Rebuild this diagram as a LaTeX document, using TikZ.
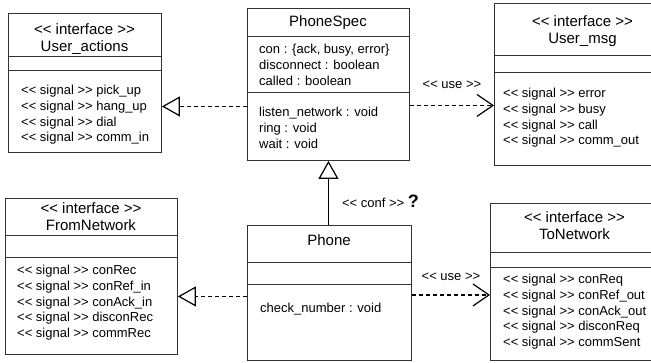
\documentclass[tikz,border=0pt]{standalone}
\usepackage{fontspec}
\setmainfont{Liberation Sans}
\usetikzlibrary{positioning,arrows.meta}

\newcommand{\ltlt}{<\kern0pt<}
\newcommand{\gtgt}{>\kern0pt>}

\tikzset{
  box/.style={draw=black!80, line width=0.9pt, anchor=north west, inner sep=0pt},
  divider/.style={draw=black!80, line width=0.9pt},
  head/.style={font=\fontsize{15}{17.5}\selectfont, align=center, anchor=north, inner sep=0pt},
  body/.style={font=\fontsize{13}{15.7}\selectfont, align=left, anchor=north west, inner sep=0pt},
  lbl/.style={font=\fontsize{13}{15}\selectfont, inner sep=0pt},
  realize/.style={dash pattern=on 4pt off 3pt, line width=1.2pt, -{Triangle[open, length=18pt, width=20pt]}},
  uses/.style={dash pattern=on 4pt off 3pt, line width=1.2pt, -{Straight Barb[length=16pt, width=22pt]}}
}

\begin{document}
\begin{tikzpicture}[x=1pt, y=-1pt]
  \useasboundingbox (0,0) rectangle (651,362);
  \clip (0,0) rectangle (651,362);

  % class boxes
  \node[box, minimum width=153pt, minimum height=139pt] (ua) at (8,13) {};
  \node[box, minimum width=162pt, minimum height=152pt] (spec) at (247,8) {};
  \node[box, minimum width=177pt, minimum height=162pt] (umsg) at (494,3) {};
  \node[box, minimum width=172pt, minimum height=156pt] (fromnet) at (5,198) {};
  \node[box, minimum width=164pt, minimum height=135pt] (phone) at (247,225) {};
  \node[box, minimum width=169pt, minimum height=157pt] (tonet) at (490,203) {};

  % compartments
  \draw[divider] ([yshift=-43pt]ua.north west) -- ([yshift=-43pt]ua.north east);
  \draw[divider] ([yshift=-57pt]ua.north west) -- ([yshift=-57pt]ua.north east);
  \draw[divider] ([yshift=-28pt]spec.north west) -- ([yshift=-28pt]spec.north east);
  \draw[divider] ([yshift=-84pt]spec.north west) -- ([yshift=-84pt]spec.north east);
  \draw[divider] ([yshift=-52pt]umsg.north west) -- ([yshift=-52pt]umsg.north east);
  \draw[divider] ([yshift=-69pt]umsg.north west) -- ([yshift=-69pt]umsg.north east);
  \draw[divider] ([yshift=-37pt]fromnet.north west) -- ([yshift=-37pt]fromnet.north east);
  \draw[divider] ([yshift=-59pt]fromnet.north west) -- ([yshift=-59pt]fromnet.north east);
  \draw[divider] ([yshift=-37pt]phone.north west) -- ([yshift=-37pt]phone.north east);
  \draw[divider] ([yshift=-59pt]phone.north west) -- ([yshift=-59pt]phone.north east);
  \draw[divider] ([yshift=-49pt]tonet.north west) -- ([yshift=-49pt]tonet.north east);
  \draw[divider] ([yshift=-64pt]tonet.north west) -- ([yshift=-64pt]tonet.north east);

  % texts
  \node[head] (uaHead) at (84.5,23.3) {\ltlt{} interface \gtgt\\User\_actions};
  \node[body] (uaSig) at (21,85) {\ltlt{} signal \gtgt{} pick\_up\\\ltlt{} signal \gtgt{} hang\_up\\\ltlt{} signal \gtgt{} dial\\\ltlt{} signal \gtgt{} comm\_in};
  \node[head] (specHead) at (328,15.7) {PhoneSpec};
  \node[body] (specAttr) at (259,44) {con : \{ack, busy, error\}\\disconnect : boolean\\called : boolean};
  \node[body] (specOp) at (259,107) {listen\_network : void\\ring : void\\wait : void};
  \node[head] (umsgHead) at (582.5,15.3) {\ltlt{} interface \gtgt\\User\_msg};
  \node[body] (umsgSig) at (503,88) {\ltlt{} signal \gtgt{} error\\\ltlt{} signal \gtgt{} busy\\\ltlt{} signal \gtgt{} call\\\ltlt{} signal \gtgt{} comm\_out};
  \node[head] (fromnetHead) at (91,202.3) {\ltlt{} interface \gtgt\\FromNetwork};
  \node[body] (fromnetSig) at (17,265) {\ltlt{} signal \gtgt{} conRec\\\ltlt{} signal \gtgt{} conRef\_in\\\ltlt{} signal \gtgt{} conAck\_in\\\ltlt{} signal \gtgt{} disconRec\\\ltlt{} signal \gtgt{} commRec};
  \node[head] (phoneHead) at (329,234.7) {Phone};
  \node[body] (phoneOp) at (260,303) {check\_number : void};
  \node[head] (tonetHead) at (574.5,211.3) {\ltlt{} interface \gtgt\\ToNetwork};
  \node[body] (tonetSig) at (503,274) {\ltlt{} signal \gtgt{} conReq\\\ltlt{} signal \gtgt{} conRef\_out\\\ltlt{} signal \gtgt{} conAck\_out\\\ltlt{} signal \gtgt{} disconReq\\\ltlt{} signal \gtgt{} commSent};

  % relations
  \draw[realize] ([yshift=-22pt]spec.west) -- ([yshift=-22pt]spec.west -| ua.east);
  \draw[uses] ([yshift=-21pt]spec.east) -- ([yshift=-21pt]spec.east -| umsg.west)
    node[lbl, midway, above=16pt] (useTop) {\ltlt{} use \gtgt};
  \draw[realize, solid] (spec.south |- phone.north) -- (spec.south)
    node[lbl, pos=0.27, anchor=base west, xshift=13pt] (conf) {\ltlt{} conf \gtgt{} \textbf{\fontsize{18}{18}\selectfont ?}};
  \draw[realize] ([yshift=-3.5pt]phone.west) -- ([yshift=-3.5pt]phone.west -| fromnet.east);
  \draw[uses] ([yshift=-2pt]phone.east) -- ([yshift=-2pt]phone.east -| tonet.west)
    node[lbl, midway, above=14pt] (useBot) {\ltlt{} use \gtgt};
\end{tikzpicture}
\end{document}
